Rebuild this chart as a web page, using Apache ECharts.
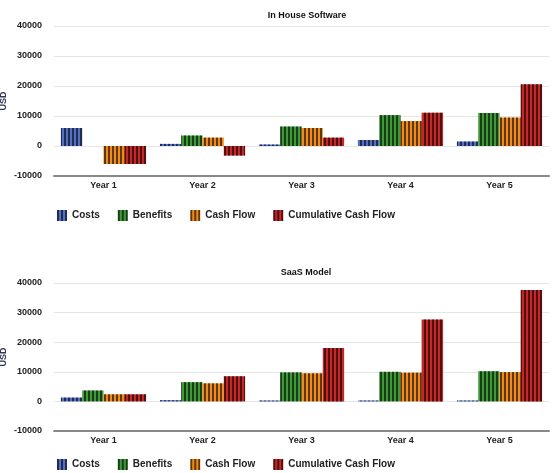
<!DOCTYPE html>
<html>
<head>
<meta charset="utf-8">
<script src="https://cdn.jsdelivr.net/npm/echarts@6/dist/echarts.min.js"></script>
<style>html,body{margin:0;padding:0;background:#fff}#c{width:559px;height:473px}</style>
</head>
<body>
<div id="c"></div>
<script>
var categories = ['Year 1', 'Year 2', 'Year 3', 'Year 4', 'Year 5'];
var seriesNames = ['Costs', 'Benefits', 'Cash Flow', 'Cumulative Cash Flow'];
var yTicks = { min: -10000, max: 40000, interval: 10000 };

var inHouseCosts = [6000, 700, 500, 2000, 1500];
var inHouseBenefits = [0, 3500, 6500, 10300, 11000];
var inHouseCashFlow = [-6000, 2800, 6000, 8300, 9500];
var inHouseCumulative = [-6000, -3200, 2800, 11100, 20600];

var saasCosts = [1300, 400, 300, 300, 300];
var saasBenefits = [3700, 6500, 9800, 10000, 10200];
var saasCashFlow = [2400, 6100, 9500, 9700, 9900];
var saasCumulative = [2400, 8500, 18000, 27700, 37600];

var colors = ['#5470c6', '#3f9a3a', '#f08a1c', '#c62828'];
var font = 'Liberation Sans';

function mkSeries(arrs, idx) {
  return arrs.map(function (d, i) {
    return {
      name: seriesNames[i], type: 'bar', xAxisIndex: idx, yAxisIndex: idx,
      data: d, barGap: '0%', barCategoryGap: '14%',
      itemStyle: {
        color: colors[i],
        decal: { symbol: 'rect', symbolSize: 1, dashArrayX: [2, 2], dashArrayY: [4, 0], color: 'rgba(0,0,0,0.6)', rotation: 0 }
      }
    };
  });
}

function mkX(idx) {
  return {
    type: 'category', gridIndex: idx, data: categories,
    axisLine: { onZero: false, lineStyle: { color: '#888', width: 2 } },
    axisTick: { show: false },
    axisLabel: { fontFamily: font, fontWeight: 'bold', fontSize: 9, color: '#222', margin: 5 }
  };
}
function mkY(idx) {
  return {
    type: 'value', gridIndex: idx, min: yTicks.min, max: yTicks.max, interval: yTicks.interval,
    name: 'USD', nameLocation: 'middle', nameGap: 46, nameRotate: 90, nameMoveOverlap: false,
    nameTextStyle: { fontFamily: font, fontWeight: 'bold', fontSize: 9, color: '#335' },
    axisLine: { show: false }, axisTick: { show: false },
    axisLabel: { fontFamily: font, fontWeight: 'bold', fontSize: 9, color: '#222', margin: 12,
      formatter: function (v) { return String(v); } },
    splitLine: { lineStyle: { color: '#e6e6e6', width: 1 } }
  };
}
function mkLegend(top) {
  return {
    data: seriesNames, left: 52, top: top, itemWidth: 10, itemHeight: 11, itemGap: 18, icon: 'rect',
    textStyle: { fontFamily: font, fontWeight: 'bold', fontSize: 10, color: '#222' }
  };
}

var chart = echarts.init(document.getElementById('c'), null, { renderer: 'canvas' });
chart.setOption({
  animation: false,
  backgroundColor: '#fff',
  title: [
    { text: 'In House Software', left: 302, top: 6, textAlign: 'center', textStyle: { fontFamily: font, fontWeight: 'bold', fontSize: 9, color: '#111' } },
    { text: 'SaaS Model', left: 301, top: 263, textAlign: 'center', textStyle: { fontFamily: font, fontWeight: 'bold', fontSize: 9, color: '#111' } }
  ],
  legend: [mkLegend(205), mkLegend(454)],
  grid: [
    { left: 54, right: 10, top: 26, height: 150, outerBoundsMode: 'none', containLabel: false },
    { left: 54, right: 10, top: 283, height: 148, outerBoundsMode: 'none', containLabel: false }
  ],
  xAxis: [mkX(0), mkX(1)],
  yAxis: [mkY(0), mkY(1)],
  series: mkSeries([inHouseCosts, inHouseBenefits, inHouseCashFlow, inHouseCumulative], 0)
    .concat(mkSeries([saasCosts, saasBenefits, saasCashFlow, saasCumulative], 1))
});
</script>
</body>
</html>
